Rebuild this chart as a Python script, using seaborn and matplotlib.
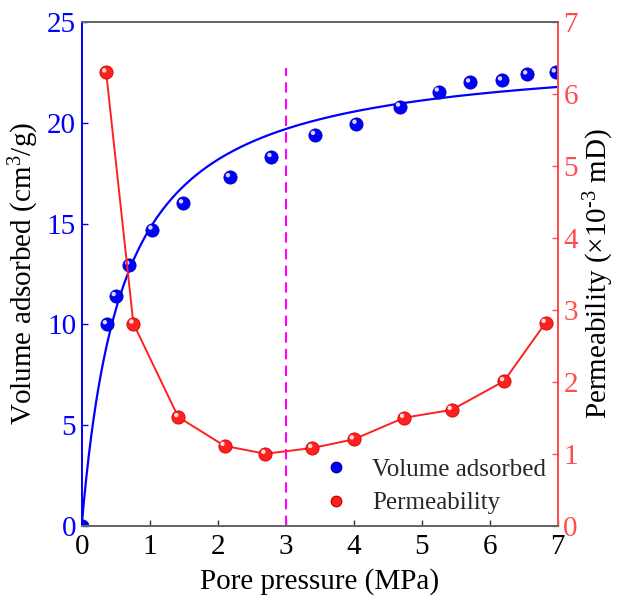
import numpy as np
import pandas as pd
import matplotlib
matplotlib.use("Agg")
import matplotlib.pyplot as plt
import matplotlib.transforms as mtransforms
from matplotlib.lines import Line2D
import seaborn as sns

# ---- data ----
ads_pressure = [0.0, 0.37, 0.50, 0.70, 1.04, 1.49, 2.18, 2.79, 3.43, 4.04, 4.68, 5.25, 5.71, 6.18, 6.55, 6.97]
ads_volume = [0.0, 10.0, 11.4, 12.95, 14.7, 16.0, 17.3, 18.3, 19.4, 19.95, 20.8, 21.55, 22.0, 22.1, 22.4, 22.5]

perm_pressure = [0.36, 0.76, 1.42, 2.10, 2.70, 3.39, 4.00, 4.74, 5.44, 6.21, 6.82]
perm_value = [6.30, 2.81, 1.51, 1.11, 1.00, 1.08, 1.20, 1.50, 1.61, 2.01, 2.82]

# Langmuir fit parameters of the blue curve
langmuir_VL = 23.66
langmuir_PL = 0.605
fit_range = (0.0, 7.0)

marker_line_x = 3.0
marker_line_top = 22.7

x_ticks = [0, 1, 2, 3, 4, 5, 6, 7]
left_ticks = [0, 5, 10, 15, 20, 25]
right_ticks = [0, 1, 2, 3, 4, 5, 6, 7]

BLUE = "#0000FF"
RED = "#FF2020"
RED_AX = "#FF4D4D"

sns.set_theme(style="white")
plt.rcParams["font.family"] = ["Liberation Serif", "DejaVu Serif"]
plt.rcParams["mathtext.fontset"] = "custom"
plt.rcParams["mathtext.rm"] = "Liberation Serif"
plt.rcParams["mathtext.it"] = "Liberation Serif:italic"
plt.rcParams["mathtext.bf"] = "Liberation Serif:bold"

fig = plt.figure(figsize=(6.17, 6.0), dpi=100)
ax = fig.add_axes([0.1324, 0.1238, 0.904 - 0.1324, 0.9633 - 0.1238])
ax2 = ax.twinx()

# Langmuir curve
p_fit = np.linspace(fit_range[0], fit_range[1], 400)
v_fit = langmuir_VL * p_fit / (langmuir_PL + p_fit)
fit_df = pd.DataFrame({"p": p_fit, "v": v_fit})
sns.lineplot(data=fit_df, x="p", y="v", ax=ax, color=BLUE, linewidth=1.6, legend=False)

# adsorption points
ads_df = pd.DataFrame({"p": ads_pressure, "v": ads_volume})
sns.scatterplot(data=ads_df, x="p", y="v", ax=ax, color=BLUE, s=90, edgecolor="#0000B0",
                linewidth=0.6, zorder=5, legend=False)
hl = mtransforms.offset_copy(ax.transData, fig=fig, x=-2.0, y=2.0, units="dots")
ax.scatter(ads_pressure, ads_volume, s=10, color="white", alpha=0.85, edgecolor="none",
           transform=hl, zorder=6)

# dashed vertical line
ax.plot([marker_line_x, marker_line_x], [0, marker_line_top], color="#FF00FF",
        linestyle=(0, (5, 3)), linewidth=1.5, zorder=2)

# permeability
perm_df = pd.DataFrame({"p": perm_pressure, "k": perm_value})
sns.lineplot(data=perm_df, x="p", y="k", ax=ax2, color=RED, linewidth=1.4,
             marker="o", markersize=9.5, markeredgecolor="#D00000", markeredgewidth=0.6,
             legend=False, zorder=5)
hl2 = mtransforms.offset_copy(ax2.transData, fig=fig, x=-2.0, y=2.0, units="dots")
ax2.scatter(perm_pressure, perm_value, s=10, color="white", alpha=0.85, edgecolor="none",
            transform=hl2, zorder=6)

# axes limits/ticks
ax.set_xlim(0, 7)
ax.set_ylim(0, 25)
ax2.set_ylim(0, 7)
ax.set_xticks(x_ticks)
ax.set_yticks(left_ticks)
ax2.set_yticks(right_ticks)

ax.set_xlabel("Pore pressure (MPa)", fontsize=21, color="black", labelpad=6)
ax.set_ylabel("Volume adsorbed (cm$^{3}$/g)", fontsize=21, color="black", labelpad=4)
ax2.set_ylabel("Permeability (×10$^{\\text{-3}}$ mD)", fontsize=21, color="black", labelpad=3)

ax.tick_params(axis="x", direction="in", length=4, width=1, colors="#333333",
               labelsize=21, labelcolor="black", pad=6, bottom=True)
ax.tick_params(axis="y", direction="in", length=4, width=1, colors=BLUE,
               labelsize=21, labelcolor=BLUE, pad=4, left=True)
ax2.tick_params(axis="y", direction="in", length=4, width=1, colors=RED_AX,
                labelsize=21, labelcolor=RED_AX, pad=4, right=True)

for a in (ax, ax2):
    a.spines["top"].set_color("#666666")
    a.spines["bottom"].set_color("#666666")
    a.spines["left"].set_color(BLUE)
    a.spines["right"].set_color(RED_AX)
    for s in a.spines.values():
        s.set_linewidth(1.4)
ax2.spines["left"].set_visible(False)
ax2.patch.set_visible(False)
ax.grid(False)
ax2.grid(False)

handles = [
    Line2D([], [], linestyle="none", marker="o", markersize=7.5, color=BLUE, markeredgecolor="#0000B0"),
    Line2D([], [], linestyle="none", marker="o", markersize=7.5, color=RED, markeredgecolor="#D00000"),
]
ax2.legend(handles, ["Volume adsorbed", "Permeability"], loc="lower left",
           bbox_to_anchor=(0.455, -0.022), frameon=False, fontsize=18,
           handletextpad=0.85, labelspacing=0.45, handlelength=1.2)

fig.savefig("out.png", dpi=100)
